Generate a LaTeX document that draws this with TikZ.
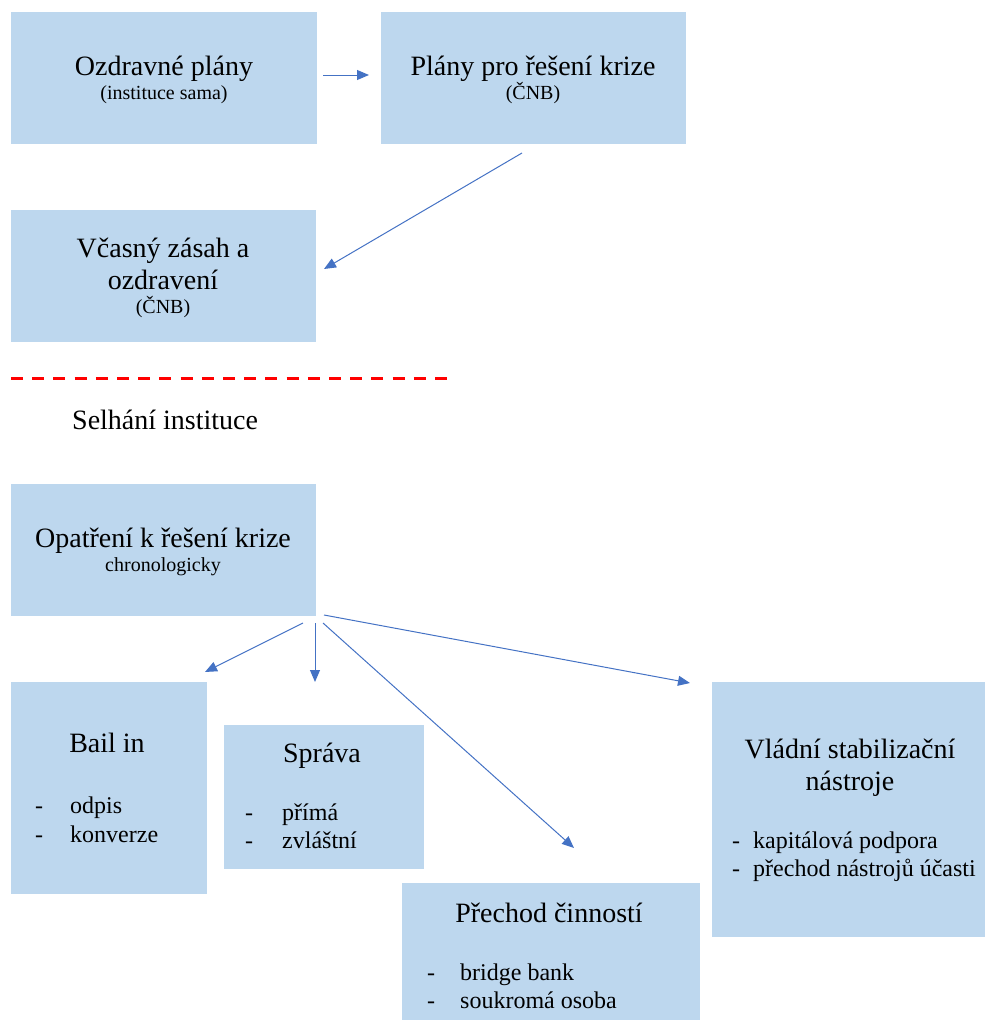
\documentclass[tikz,border=0pt]{standalone}
\usepackage{fontspec}
\setmainfont{Liberation Serif}
\usetikzlibrary{arrows.meta}

\definecolor{boxblue}{HTML}{BDD7EE}
\definecolor{arrowblue}{HTML}{4472C4}
\definecolor{cutred}{HTML}{FF0000}

\newcommand{\bigtxt}{\fontsize{28}{34}\selectfont}
\newcommand{\midtxt}{\fontsize{24}{29}\selectfont}
\newcommand{\smalltxt}{\fontsize{20}{24}\selectfont}

\tikzset{
  box/.style={fill=boxblue, draw=none, inner sep=0pt, rectangle},
  txt/.style={inner sep=0pt, anchor=base},
  item/.style={inner sep=0pt, anchor=base west, font=\midtxt},
  arr/.style={draw=arrowblue, line width=1pt,
              -{Triangle[length=12pt,width=10pt]}},
  cut/.style={draw=cutred, line width=3pt, dash pattern=on 12pt off 9.2pt}
}

\begin{document}
\begin{tikzpicture}[x=1pt, y=-1pt]
\useasboundingbox (0,0) rectangle (985,1020);

% boxes
\node[box, minimum width=306pt, minimum height=132pt] (A) at (164,78) {};
\node[box, minimum width=305pt, minimum height=132pt] (B) at (533.5,78) {};
\node[box, minimum width=305pt, minimum height=132pt] (C) at (163.5,276) {};
\node[box, minimum width=305pt, minimum height=132pt] (D) at (163.5,550) {};
\node[box, minimum width=196pt, minimum height=212pt] (E) at (109,788) {};
\node[box, minimum width=200pt, minimum height=144pt] (F) at (324,797) {};
\node[box, minimum width=298pt, minimum height=137pt] (G) at (551,951.5) {};
\node[box, minimum width=273pt, minimum height=255pt] (H) at (848.5,809.5) {};

% texts of the upper part
\node[txt, font=\bigtxt]   (a1) at (164,75) {Ozdravné plány};
\node[txt, font=\smalltxt] (a2) at (164,99) {(instituce sama)};
\node[txt, font=\bigtxt]   (b1) at (533,75) {Plány pro řešení krize};
\node[txt, font=\smalltxt] (b2) at (533,99) {(ČNB)};
\node[txt, font=\bigtxt]   (c1) at (163,257) {Včasný zásah a};
\node[txt, font=\bigtxt]   (c2) at (163,289) {ozdravení};
\node[txt, font=\smalltxt] (c3) at (163,313) {(ČNB)};

% failure line
\coordinate (cutL) at (11,378);
\coordinate (cutR) at (447,378);
\draw[cut] (cutL) -- (cutR);
\node[txt, anchor=base west, font=\bigtxt] (fail) at (72,429) {Selhání instituce};

% resolution measures
\node[txt, font=\bigtxt]   (d1) at (163,547) {Opatření k řešení krize};
\node[txt, font=\smalltxt] (d2) at (163,571) {chronologicky};

\node[txt, font=\bigtxt] (e1) at (107,752) {Bail in};
\node[item] (e2d) at (35,813) {-};
\node[item] (e2)  at (70,813) {odpis};
\node[item] (e3d) at (35,842) {-};
\node[item] (e3)  at (70,842) {konverze};

\node[txt, font=\bigtxt] (f1) at (322,762) {Správa};
\node[item] (f2d) at (245,820) {-};
\node[item] (f2)  at (282,820) {přímá};
\node[item] (f3d) at (245,848) {-};
\node[item] (f3)  at (282,848) {zvláštní};

\node[txt, font=\bigtxt] (g1) at (549,922) {Přechod činností};
\node[item] (g2d) at (427,980) {-};
\node[item] (g2)  at (460,980) {bridge bank};
\node[item] (g3d) at (427,1008) {-};
\node[item] (g3)  at (460,1008) {soukromá osoba};

\node[txt, font=\bigtxt] (h1) at (850,758) {Vládní stabilizační};
\node[txt, font=\bigtxt] (h2) at (850,790) {nástroje};
\node[item] (h3d) at (732,848) {-};
\node[item] (h3)  at (753,848) {kapitálová podpora};
\node[item] (h4d) at (732,876) {-};
\node[item] (h4)  at (753,876) {přechod nástrojů účasti};

% arrow end points
\coordinate (ab1) at (323,75);
\coordinate (ab2) at (369,75);
\coordinate (bc1) at (522,153);
\coordinate (bc2) at (324,269);
\coordinate (de1) at (303,623);
\coordinate (de2) at (205,672);
\coordinate (df1) at (315,623);
\coordinate (df2) at (315,682);
\coordinate (dg1) at (323,623);
\coordinate (dg2) at (574,848);
\coordinate (dh1) at (324,615);
\coordinate (dh2) at (690,683);

% connectors
\draw[arr] (ab1) -- (ab2);
\draw[arr] (bc1) -- (bc2);
\draw[arr] (de1) -- (de2);
\draw[arr] (df1) -- (df2);
\draw[arr] (dg1) -- (dg2);
\draw[arr] (dh1) -- (dh2);
\end{tikzpicture}
\end{document}
